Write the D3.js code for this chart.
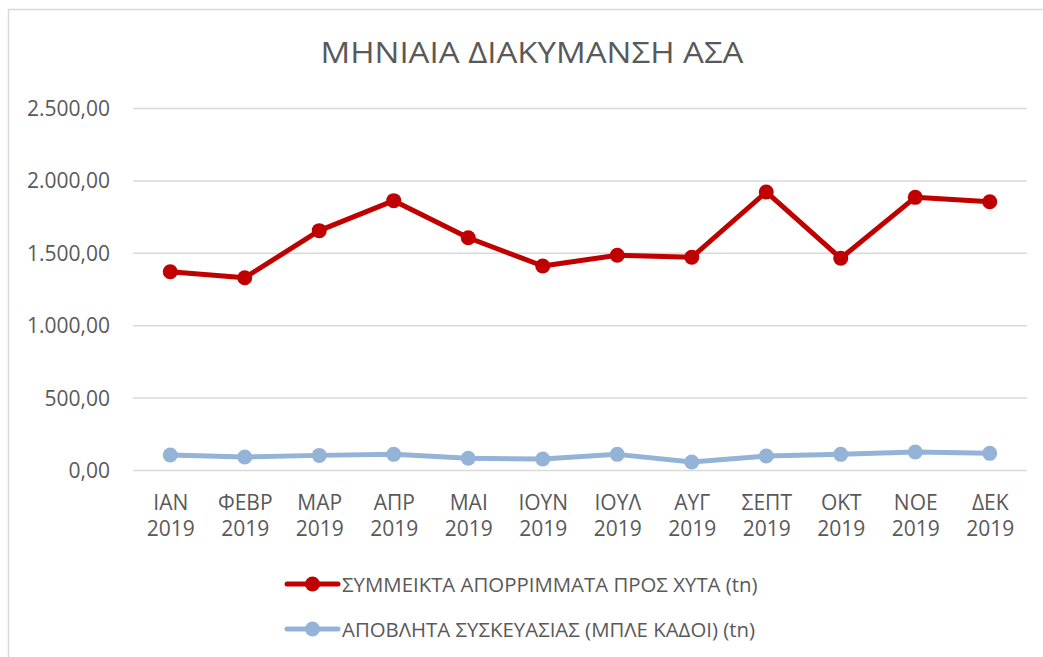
<!DOCTYPE html>
<html>
<head>
<meta charset="utf-8">
<script src="https://cdn.jsdelivr.net/npm/d3@7"></script>
<style>
  body { margin: 0; background: #fff; }
  svg { display: block; font-family: "Open Sans", sans-serif; }
</style>
</head>
<body>
<svg class="main" width="1043" height="657"></svg>
<script>
// data
var months = ['ΙΑΝ', 'ΦΕΒΡ', 'ΜΑΡ', 'ΑΠΡ', 'ΜΑΙ', 'ΙΟΥΝ', 'ΙΟΥΛ', 'ΑΥΓ', 'ΣΕΠΤ', 'ΟΚΤ', 'ΝΟΕ', 'ΔΕΚ']
var year = '2019'
var mixedWaste = [1369, 1328, 1653, 1860, 1604, 1409, 1483, 1469, 1920, 1462, 1883, 1853]
var packaging = [104, 90, 101, 108, 81, 76, 108, 55, 97, 108, 124, 115]
var seriesNames = ['ΣΥΜΜΕΙΚΤΑ ΑΠΟΡΡΙΜΜΑΤΑ ΠΡΟΣ ΧΥΤΑ (tn)', 'ΑΠΟΒΛΗΤΑ ΣΥΣΚΕΥΑΣΙΑΣ (ΜΠΛΕ ΚΑΔΟΙ) (tn)']
var yTicks = [0, 500, 1000, 1500, 2000, 2500]
var title = 'ΜΗΝΙΑΙΑ ΔΙΑΚΥΜΑΝΣΗ ΑΣΑ'

var colors = ['#C00000', '#95B3D7']
var textColor = '#595959'

const svg = d3.select('svg.main')

// chart border (only left and top visible)
svg.append('rect')
  .attr('x', 8.5).attr('y', 9.5)
  .attr('width', 1100).attr('height', 700)
  .attr('fill', 'none')
  .attr('stroke', '#D9D9D9')
  .attr('stroke-width', 1.5)

const margin = {top: 108, left: 133, right: 1027, bottom: 470}

const xScale = d3.scalePoint()
  .domain(months)
  .range([margin.left, margin.right])
  .padding(0.5)

const yScale = d3.scaleLinear()
  .domain([0, 2500])
  .range([margin.bottom, margin.top])

const grFormat = d3.formatLocale({decimal: ',', thousands: '.', grouping: [3], currency: ['', '€']}).format(',.2f')

// title
svg.append('text')
  .attr('x', 532).attr('y', 63)
  .attr('text-anchor', 'middle')
  .attr('fill', textColor)
  .attr('font-size', 30)
  .attr('textLength', 423)
  .attr('lengthAdjust', 'spacingAndGlyphs')
  .text(title)

// y axis + gridlines
const yAxis = svg.append('g')
  .attr('transform', `translate(${margin.left}, 0)`)
  .call(d3.axisLeft(yScale).tickValues(yTicks).tickFormat(grFormat)
    .tickSize(-(margin.right - margin.left)).tickPadding(23))
yAxis.select('.domain').remove()
yAxis.selectAll('line').attr('stroke', '#D9D9D9').attr('stroke-width', 1.5)
yAxis.selectAll('text')
  .attr('fill', textColor)
  .attr('font-size', 21)
  .attr('font-family', '"Open Sans", sans-serif')
  .attr('dy', '0.36em')

// x axis labels (two lines)
const xAxis = svg.append('g')
  .attr('transform', `translate(0, ${margin.bottom})`)
  .call(d3.axisBottom(xScale).tickSize(0))
xAxis.select('.domain').remove()
xAxis.selectAll('text').each(function(d) {
  var t = d3.select(this)
  t.text(null).attr('y', 0).attr('dy', null)
    .attr('fill', textColor)
    .attr('font-size', 21)
    .attr('font-family', '"Open Sans", sans-serif')
  t.append('tspan').attr('x', 0).attr('y', 40).text(d)
  t.append('tspan').attr('x', 0).attr('y', 66).text(year)
})

// lines + markers
var allSeries = [mixedWaste, packaging]
var line = d3.line()
  .x((d, i) => xScale(months[i]))
  .y(d => yScale(d))

allSeries.forEach(function(values, k) {
  var g = svg.append('g')
  g.append('path')
    .datum(values)
    .attr('d', line)
    .attr('fill', 'none')
    .attr('stroke', colors[k])
    .attr('stroke-width', 5)
    .attr('stroke-linejoin', 'round')
  g.selectAll('circle')
    .data(values)
    .join('circle')
    .attr('cx', (d, i) => xScale(months[i]))
    .attr('cy', d => yScale(d))
    .attr('r', 7.5)
    .attr('fill', colors[k])
})

// legend
var legendY = [584, 629]
seriesNames.forEach(function(name, k) {
  var g = svg.append('g').attr('transform', `translate(0, ${legendY[k]})`)
  g.append('line')
    .attr('x1', 287).attr('x2', 338)
    .attr('stroke', colors[k])
    .attr('stroke-width', 5)
    .attr('stroke-linecap', 'round')
  g.append('circle')
    .attr('cx', 312.5).attr('r', 7.5)
    .attr('fill', colors[k])
  g.append('text')
    .attr('x', 342).attr('y', 7.5)
    .attr('fill', textColor)
    .attr('font-size', 20.4)
    .text(name)
})
</script>
</body>
</html>
